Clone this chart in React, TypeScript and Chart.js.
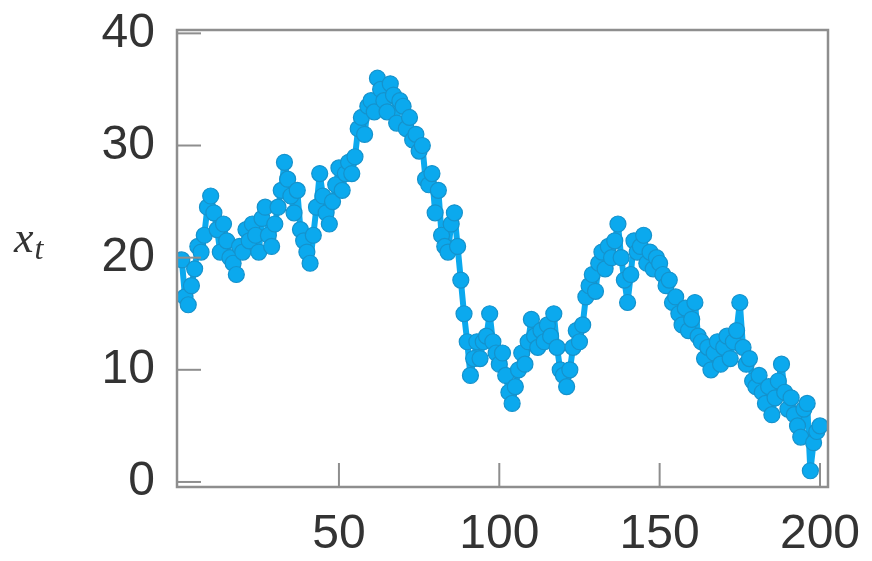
import React, { useEffect, useRef } from "react";
import { Chart, registerables } from "chart.js";
Chart.register(...registerables);

const seriesValues: number[] = [
  19.8, 16.5, 15.8, 17.5, 19, 21, 20.5, 22, 24.5, 25.5,
  24, 22.5, 20.5, 23, 21.5, 20, 19.5, 18.5, 21, 20.5,
  22.5, 21.5, 23, 22, 20.5, 23.5, 24.5, 22, 21, 23,
  24.5, 26, 28.5, 27, 25.5, 24, 26, 22.5, 21.5, 20.5,
  19.5, 22, 24.5, 27.5, 25.5, 24, 23, 25, 26.5, 28,
  26, 27.5, 28.5, 27.5, 29, 31.5, 32.5, 31, 33.5, 34,
  33, 36, 35, 34, 33, 35.5, 34.5, 32, 34, 33.5,
  31.5, 32.5, 30.5, 31, 29.5, 30, 27, 26.5, 27.5, 24,
  26, 22, 21, 20.5, 23, 24, 21, 18, 15, 12.5,
  9.5, 11, 12.5, 11, 12.5, 13, 15, 12.5, 11.5, 10.5,
  11.5, 9.5, 8, 7, 8.5, 10, 11.5, 10.5, 12.5, 14.5,
  13, 12, 13.5, 12.5, 14, 13, 15, 12, 10, 9.5,
  8.5, 10, 12, 13.5, 12.5, 14, 16.5, 17.5, 18.5, 17,
  19.5, 20.5, 19, 21, 20, 21.5, 23, 20, 18, 16,
  18.5, 21.5, 20.5, 21, 22, 19.5, 20.5, 19, 20, 19.5,
  18.5, 17.5, 18, 16, 16.5, 15, 14, 15.5, 13.5, 14.5,
  16, 13, 12.5, 11, 12, 10, 11.5, 12.5, 10.5, 12,
  13, 11, 12.5, 13.5, 16, 12, 10.5, 11, 9, 8.5,
  9.5, 8, 7, 8.5, 6, 7.5, 9, 10.5, 8, 6.5,
  7.5, 6, 5, 4, 6.5, 7, 1, 3.5, 4.5, 5,
];

const xTickValues: number[] = [50, 100, 150, 200];
const yTickValues: number[] = [0, 10, 20, 30, 40];
const yAxisLabel = "x";
const yAxisSubscript = "t";

const MARK = "#0ba9ee";
const MARK_EDGE = "#1592cc";
const AXIS = "#8e8e8e";
const TEXT = "#333333";

const framePlugin = {
  id: "frame",
  afterDatasetsDraw(chart: any) {
    const { ctx, chartArea } = chart;
    const { left, right, top, bottom } = chartArea;
    const xs = chart.scales.x;
    const ys = chart.scales.y;
    ctx.save();
    ctx.strokeStyle = AXIS;
    ctx.lineWidth = 2.5;
    ctx.strokeRect(left, top, right - left, bottom - top);
    ctx.lineWidth = 2;
    const tl = 24;
    for (const v of yTickValues) {
      const py = ys.getPixelForValue(v);
      ctx.beginPath();
      ctx.moveTo(left, py);
      ctx.lineTo(left + tl, py);
      ctx.stroke();
    }
    for (const v of xTickValues) {
      const px = xs.getPixelForValue(v);
      ctx.beginPath();
      ctx.moveTo(px, bottom);
      ctx.lineTo(px, bottom - tl);
      ctx.stroke();
    }
    ctx.fillStyle = TEXT;
    ctx.textBaseline = "alphabetic";
    ctx.textAlign = "left";
    ctx.font = "italic 44px 'Liberation Serif'";
    ctx.fillText(yAxisLabel, 14, 252);
    const w = ctx.measureText(yAxisLabel).width;
    ctx.font = "italic 32px 'Liberation Serif'";
    ctx.fillText(yAxisSubscript, 14 + w + 1, 259);
    ctx.restore();
  },
};

export default function App() {
  const ref = useRef<HTMLCanvasElement | null>(null);
  useEffect(() => {
    if (!ref.current) return;
    const points = seriesValues.map((v, i) => ({ x: i + 1, y: v }));
    const chart = new Chart(ref.current, {
      type: "line",
      data: {
        datasets: [
          {
            data: points,
            borderColor: MARK,
            borderWidth: 6,
            borderJoinStyle: "round",
            borderCapStyle: "round",
            pointRadius: 8,
            pointBackgroundColor: MARK,
            pointBorderColor: MARK_EDGE,
            pointBorderWidth: 1.2,
            tension: 0,
          },
        ],
      },
      options: {
        responsive: false,
        animation: false,
        layout: { padding: { left: 0, top: 30, right: 44, bottom: 0 } },
        plugins: { legend: { display: false }, tooltip: { enabled: false } },
        scales: {
          x: {
            type: "linear",
            min: -0.5,
            max: 202.5,
            grid: { display: false, drawTicks: false },
            border: { display: false },
            afterBuildTicks: (s: any) => {
              s.ticks = xTickValues.map((v) => ({ value: v }));
            },
            afterFit: (s: any) => {
              s.height = 74;
              s.paddingLeft = 0;
              s.paddingRight = 0;
            },
            ticks: {
              padding: 19,
              maxRotation: 0,
              autoSkip: false,
              color: TEXT,
              font: { family: "'Liberation Sans'", size: 48 },
            },
          },
          y: {
            type: "linear",
            min: -0.45,
            max: 40.3,
            grid: { display: false, drawTicks: false },
            border: { display: false },
            afterBuildTicks: (s: any) => {
              s.ticks = yTickValues.map((v) => ({ value: v }));
            },
            afterFit: (s: any) => {
              s.width = 177;
              s.paddingTop = 0;
              s.paddingBottom = 0;
            },
            ticks: {
              padding: 22,
              autoSkip: false,
              color: TEXT,
              font: { family: "'Liberation Sans'", size: 48 },
            },
          },
        },
      },
      plugins: [framePlugin],
    });
    return () => chart.destroy();
  }, []);
  return (
    <div style={{ position: "fixed", left: 0, top: 0, width: 872, height: 561, background: "#fff" }}>
      <canvas ref={ref} width={872} height={561} style={{ display: "block" }} />
    </div>
  );
}
